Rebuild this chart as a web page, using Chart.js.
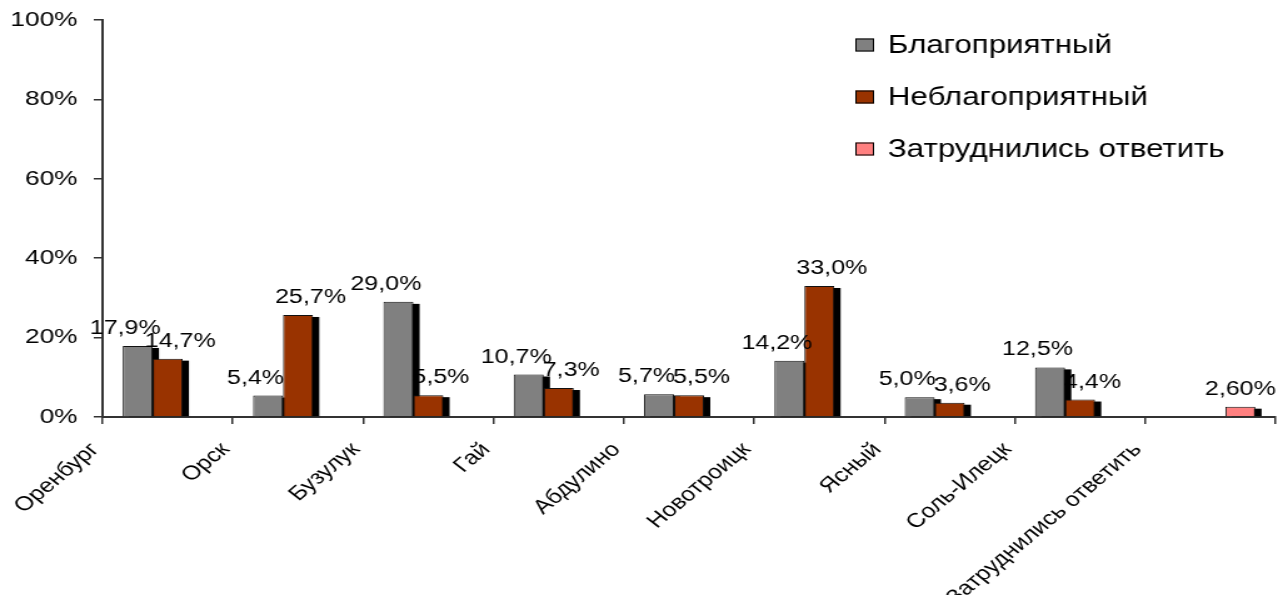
<!DOCTYPE html>
<html>
<head>
<meta charset="utf-8">
<script src="https://cdn.jsdelivr.net/npm/chart.js@4.4.0/dist/chart.umd.min.js"></script>
<style>
  html, body { margin: 0; padding: 0; background: #fff; overflow: hidden; }
  /* the source picture is stretched sideways, so the canvas is too */
  #chart { display: block; transform-origin: 0 0; transform: scaleX(1.2505); }
</style>
</head>
<body>
<canvas id="chart" width="1022" height="595"></canvas>
<script>
const categories = ['Оренбург', 'Орск', 'Бузулук', 'Гай', 'Абдулино', 'Новотроицк', 'Ясный', 'Соль-Илецк', 'Затруднились ответить'];
const favourable = [17.9, 5.4, 29.0, 10.7, 5.7, 14.2, 5.0, 12.5, null];
const unfavourable = [14.7, 25.7, 5.5, 7.3, 5.5, 33.0, 3.6, 4.4, null];
const undecided = [null, null, null, null, null, null, null, null, 2.6];
const yTicks = [0, 20, 40, 60, 80, 100];

const FONT = 'Liberation Sans, Arial, sans-serif';

// black drop shadow behind every bar, drawn before the bars themselves
const barShadow = {
  id: 'barShadow',
  beforeDatasetsDraw(chart) {
    const ctx = chart.ctx;
    ctx.save();
    ctx.fillStyle = '#000';
    chart.data.datasets.forEach((ds, i) => {
      chart.getDatasetMeta(i).data.forEach((bar, j) => {
        if (ds.data[j] == null) return;
        const { x, y, base, width } = bar.getProps(['x', 'y', 'base', 'width'], true);
        ctx.fillRect(x - width / 2 + 5, y + 2, width, base - y - 2);
      });
    });
    ctx.restore();
  }
};

// value labels over the bars, e.g. "17,9%"
const valueLabels = {
  id: 'valueLabels',
  afterDatasetsDraw(chart) {
    const ctx = chart.ctx;
    ctx.save();
    ctx.font = '20px ' + FONT;
    ctx.fillStyle = '#000';
    ctx.textAlign = 'center';
    ctx.textBaseline = 'alphabetic';
    chart.data.datasets.forEach((ds, i) => {
      chart.getDatasetMeta(i).data.forEach((bar, j) => {
        const v = ds.data[j];
        if (v == null) return;
        const txt = v.toFixed(ds.decimals).replace('.', ',') + '%';
        ctx.fillText(txt, bar.x + ds.labelShift, bar.y - 12);
      });
    });
    ctx.restore();
  }
};

// legend sitting inside the plot, top right
const boxLegend = {
  id: 'boxLegend',
  afterDraw(chart) {
    const ctx = chart.ctx;
    ctx.save();
    ctx.font = '25px ' + FONT;
    ctx.textBaseline = 'middle';
    ctx.textAlign = 'left';
    chart.data.datasets.forEach((ds, i) => {
      const cy = 45 + i * 52;
      ctx.fillStyle = ds.backgroundColor;
      ctx.fillRect(684, cy - 6.5, 15, 13);
      ctx.strokeStyle = '#000';
      ctx.lineWidth = 1;
      ctx.strokeRect(684.5, cy - 6, 14, 12);
      ctx.fillStyle = '#000';
      ctx.fillText(ds.label, 710, cy + 1);
    });
    ctx.restore();
  }
};

const barStyle = { borderColor: '#111', borderWidth: 1 };

new Chart(document.getElementById('chart'), {
  type: 'bar',
  data: {
    labels: categories,
    datasets: [
      { label: 'Благоприятный', data: favourable, backgroundColor: '#808080', decimals: 1, labelShift: -10, ...barStyle },
      { label: 'Неблагоприятный', data: unfavourable, backgroundColor: '#993300', decimals: 1, labelShift: 10, ...barStyle },
      { label: 'Затруднились ответить', data: undecided, backgroundColor: '#FF8080', decimals: 2, labelShift: 0, ...barStyle }
    ]
  },
  options: {
    responsive: false,
    animation: false,
    devicePixelRatio: 1,
    layout: { padding: { top: 20, right: 2, left: 0, bottom: 0 } },
    datasets: { bar: { categoryPercentage: 0.69, barPercentage: 1 } },
    plugins: {
      legend: { display: false },
      tooltip: { enabled: false }
    },
    scales: {
      x: {
        grid: { offset: true, drawOnChartArea: false, tickLength: 7, color: '#333', lineWidth: 1.5 },
        border: { color: '#333', width: 2 },
        ticks: {
          color: '#000',
          font: { family: FONT, size: 20 },
          minRotation: 46,
          maxRotation: 46,
          autoSkip: false,
          padding: 14,
          labelOffset: -58
        },
        afterFit: (s) => { s.height = 178; s.paddingTop = 0; s.paddingBottom = 0; }
      },
      y: {
        min: 0,
        max: 100,
        grid: { drawOnChartArea: false, tickLength: 7, color: '#333', lineWidth: 1.5 },
        border: { color: '#333', width: 2 },
        ticks: {
          color: '#000',
          font: { family: FONT, size: 21 },
          padding: 13,
          callback: (v) => v + '%'
        },
        afterBuildTicks: (s) => { s.ticks = yTicks.map((v) => ({ value: v })); },
        afterFit: (s) => { s.width = 82; s.paddingTop = 0; s.paddingBottom = 0; }
      }
    }
  },
  plugins: [barShadow, valueLabels, boxLegend]
});
</script>
</body>
</html>
